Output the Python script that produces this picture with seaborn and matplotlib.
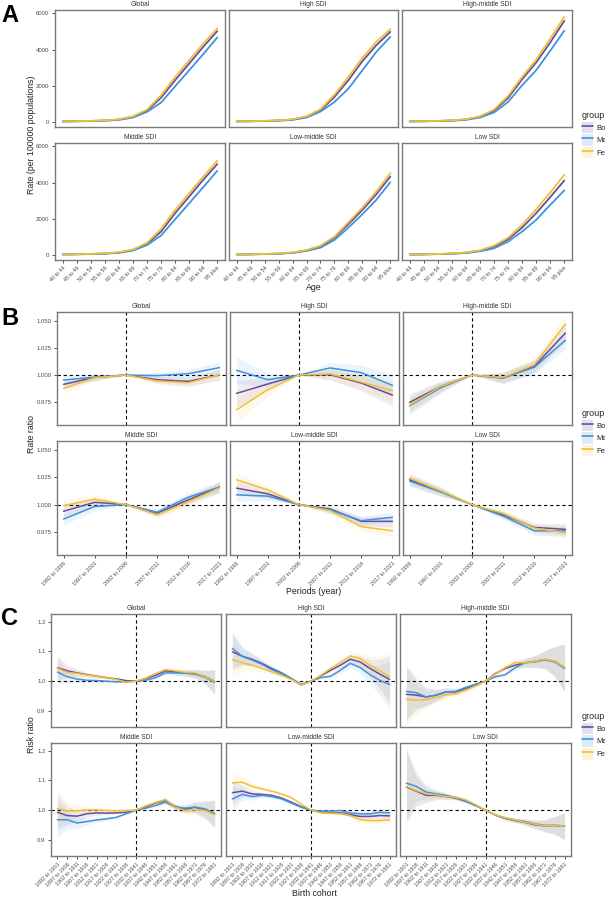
import numpy as np
import pandas as pd
import seaborn as sns
import matplotlib
matplotlib.use("Agg")
import matplotlib.pyplot as plt
from matplotlib.patches import Patch
from matplotlib.lines import Line2D

W, H = 605, 897

groups = ["Both", "Male", "Female"]
regions = ["Global", "High SDI", "High-middle SDI", "Middle SDI", "Low-middle SDI", "Low SDI"]

ages = ["40 to 44", "45 to 49", "50 to 54", "55 to 59", "60 to 64", "65 to 69",
        "70 to 74", "75 to 79", "80 to 84", "85 to 89", "90 to 94", "95 plus"]
periods = ["1992 to 1996", "1997 to 2001", "2002 to 2006", "2007 to 2011",
           "2012 to 2016", "2017 to 2021"]
cohorts = ["1892 to 1901", "1897 to 1906", "1902 to 1911", "1907 to 1916", "1912 to 1921",
           "1917 to 1926", "1922 to 1931", "1927 to 1936", "1932 to 1941", "1937 to 1946",
           "1942 to 1951", "1947 to 1956", "1952 to 1961", "1957 to 1966", "1962 to 1971",
           "1967 to 1976", "1972 to 1981"]

# A: age effect, rate per 100000 (rows: Both, Male, Female)
a_global = [[15, 25, 40, 65, 120, 270, 610, 1330, 2300, 3220, 4150, 5020],
            [12, 20, 33, 55, 100, 230, 540, 1060, 1960, 2850, 3740, 4670],
            [18, 28, 45, 75, 135, 300, 670, 1460, 2480, 3400, 4330, 5170]]
a_high = [[15, 25, 40, 65, 120, 270, 630, 1370, 2300, 3350, 4240, 4980],
          [12, 20, 33, 55, 100, 230, 560, 1090, 1830, 2850, 3870, 4700],
          [18, 28, 45, 75, 135, 300, 690, 1500, 2480, 3540, 4430, 5130]]
a_highmid = [[15, 25, 40, 65, 120, 270, 610, 1310, 2350, 3280, 4390, 5590],
             [12, 20, 33, 55, 100, 230, 510, 1090, 2020, 2850, 3930, 5040],
             [18, 28, 45, 75, 135, 300, 670, 1430, 2480, 3440, 4610, 5810]]
a_mid = [[15, 25, 40, 65, 120, 260, 600, 1280, 2300, 3220, 4150, 5020],
         [12, 20, 33, 55, 100, 230, 530, 1060, 1960, 2850, 3740, 4650],
         [18, 28, 45, 75, 135, 290, 660, 1430, 2480, 3400, 4330, 5200]]
a_lowmid = [[12, 20, 35, 60, 110, 230, 440, 940, 1690, 2480, 3350, 4330],
            [10, 17, 30, 52, 95, 210, 390, 815, 1500, 2240, 3040, 4020],
            [14, 23, 40, 68, 125, 260, 500, 1000, 1800, 2610, 3500, 4520]]
a_low = [[12, 20, 35, 60, 110, 220, 440, 850, 1500, 2300, 3190, 4110],
         [10, 17, 30, 52, 95, 190, 350, 720, 1280, 1930, 2760, 3560],
         [14, 23, 40, 68, 125, 250, 500, 940, 1650, 2520, 3440, 4430]]

# B: period effect, rate ratio
b_global = [[0.9914, 0.9978, 1.0, 0.9957, 0.9942, 1.0000],
            [0.9954, 0.9980, 1.0, 0.9994, 1.0012, 1.0068],
            [0.9877, 0.9975, 1.0, 0.9945, 0.9929, 1.0003]]
b_high = [[0.9831, 0.9917, 1.0, 1.0003, 0.9926, 0.9815],
          [1.0043, 0.9957, 1.0, 1.0065, 1.0022, 0.9905],
          [0.9680, 0.9865, 1.0, 1.0010, 0.9935, 0.9855]]
b_highmid = [[0.9748, 0.9896, 1.0, 0.9972, 1.0080, 1.0387],
             [0.9717, 0.9883, 1.0, 0.9975, 1.0071, 1.0320],
             [0.9723, 0.9896, 1.0, 0.9978, 1.0095, 1.0470]]
b_mid = [[0.9939, 1.0021, 1.0, 0.9920, 1.0043, 1.0160],
         [0.9868, 0.9982, 1.0, 0.9930, 1.0067, 1.0160],
         [0.9990, 1.0050, 1.0, 0.9908, 1.0024, 1.0153]]
b_lowmid = [[1.0150, 1.0098, 1.0, 0.9960, 0.9847, 0.9847],
            [1.0089, 1.0077, 1.0, 0.9951, 0.9853, 0.9884],
            [1.0226, 1.0135, 1.0, 0.9945, 0.9798, 0.9761]]
b_low = [[1.0226, 1.0120, 1.0, 0.9908, 0.9792, 0.9774],
         [1.0214, 1.0115, 1.0, 0.9896, 0.9761, 0.9760],
         [1.0242, 1.0125, 1.0, 0.9920, 0.9786, 0.9743]]
# half width of the confidence bands
b_band_global = [0.004, 0.003, 0.0, 0.003, 0.004, 0.005]
b_band_high = [0.012, 0.006, 0.0, 0.005, 0.007, 0.010]
b_band_highmid = [0.008, 0.005, 0.0, 0.005, 0.006, 0.008]
b_band_mid = [0.005, 0.004, 0.0, 0.003, 0.004, 0.005]
b_band_lowmid = [0.006, 0.004, 0.0, 0.003, 0.004, 0.005]
b_band_low = [0.005, 0.004, 0.0, 0.003, 0.004, 0.005]

# C: cohort effect, risk ratio
c_global = [[1.045, 1.035, 1.028, 1.022, 1.017, 1.012, 1.008, 1.002, 1.0, 1.009, 1.020, 1.035, 1.031, 1.028, 1.025, 1.016, 0.999],
            [1.031, 1.015, 1.007, 1.003, 1.002, 1.000, 0.998, 0.998, 1.0, 1.003, 1.012, 1.028, 1.028, 1.027, 1.024, 1.013, 0.996],
            [1.043, 1.030, 1.026, 1.021, 1.017, 1.012, 1.006, 0.996, 1.0, 1.011, 1.026, 1.039, 1.035, 1.030, 1.028, 1.015, 0.998]]
c_high = [[1.099, 1.084, 1.074, 1.060, 1.043, 1.028, 1.009, 0.989, 1.0, 1.018, 1.037, 1.054, 1.074, 1.065, 1.043, 1.024, 1.006],
          [1.110, 1.084, 1.071, 1.057, 1.039, 1.026, 1.009, 0.988, 1.0, 1.012, 1.017, 1.037, 1.060, 1.046, 1.022, 1.003, 0.989],
          [1.073, 1.062, 1.054, 1.043, 1.031, 1.020, 1.006, 0.987, 1.0, 1.020, 1.043, 1.063, 1.085, 1.076, 1.054, 1.035, 1.015]]
c_highmid = [[0.956, 0.953, 0.947, 0.953, 0.964, 0.964, 0.975, 0.989, 1.0, 1.026, 1.043, 1.054, 1.062, 1.067, 1.073, 1.067, 1.046],
             [0.966, 0.961, 0.947, 0.953, 0.964, 0.966, 0.979, 0.990, 1.0, 1.015, 1.022, 1.045, 1.062, 1.065, 1.071, 1.065, 1.043],
             [0.939, 0.936, 0.938, 0.945, 0.955, 0.958, 0.970, 0.983, 1.0, 1.024, 1.046, 1.063, 1.062, 1.067, 1.073, 1.068, 1.046]]
c_mid = [[0.993, 0.982, 0.980, 0.988, 0.991, 0.990, 0.991, 0.993, 1.0, 1.012, 1.024, 1.033, 1.012, 1.003, 1.010, 1.001, 0.988],
         [0.968, 0.968, 0.957, 0.962, 0.967, 0.971, 0.976, 0.988, 1.0, 1.007, 1.016, 1.027, 1.010, 1.007, 1.010, 1.005, 0.988],
         [1.005, 0.998, 0.998, 1.001, 1.001, 0.999, 0.998, 0.999, 1.0, 1.015, 1.026, 1.036, 1.009, 0.999, 1.001, 0.999, 0.985]]
c_lowmid = [[1.059, 1.064, 1.055, 1.053, 1.050, 1.041, 1.027, 1.012, 1.0, 0.993, 0.991, 0.991, 0.985, 0.979, 0.979, 0.982, 0.981],
            [1.038, 1.053, 1.046, 1.050, 1.046, 1.038, 1.024, 1.010, 1.0, 0.997, 0.997, 0.999, 0.991, 0.988, 0.988, 0.993, 0.991],
            [1.092, 1.094, 1.080, 1.072, 1.064, 1.055, 1.042, 1.021, 1.0, 0.991, 0.990, 0.988, 0.982, 0.968, 0.965, 0.965, 0.967]]
c_low = [[1.078, 1.064, 1.050, 1.050, 1.046, 1.041, 1.030, 1.016, 1.0, 0.984, 0.972, 0.965, 0.959, 0.951, 0.947, 0.949, 0.947],
         [1.091, 1.080, 1.061, 1.055, 1.050, 1.042, 1.030, 1.016, 1.0, 0.984, 0.974, 0.967, 0.962, 0.954, 0.949, 0.949, 0.946],
         [1.080, 1.066, 1.055, 1.052, 1.046, 1.044, 1.035, 1.019, 1.0, 0.985, 0.974, 0.967, 0.960, 0.953, 0.947, 0.950, 0.946]]
c_band_global = [0.040, 0.020, 0.012, 0.008, 0.006, 0.005, 0.004, 0.003, 0.0, 0.003, 0.005, 0.006, 0.008, 0.010, 0.014, 0.022, 0.040]
c_band_high = [0.060, 0.030, 0.020, 0.012, 0.008, 0.006, 0.004, 0.003, 0.0, 0.003, 0.006, 0.010, 0.014, 0.020, 0.030, 0.050, 0.080]
c_band_highmid = [0.090, 0.050, 0.030, 0.020, 0.014, 0.010, 0.007, 0.004, 0.0, 0.004, 0.007, 0.010, 0.015, 0.020, 0.030, 0.050, 0.080]
c_band_mid = [0.060, 0.030, 0.020, 0.012, 0.008, 0.006, 0.004, 0.003, 0.0, 0.003, 0.005, 0.007, 0.009, 0.012, 0.018, 0.028, 0.045]
c_band_lowmid = [0.040, 0.020, 0.012, 0.008, 0.006, 0.005, 0.004, 0.003, 0.0, 0.003, 0.004, 0.005, 0.006, 0.008, 0.010, 0.012, 0.015]
c_band_low = [0.120, 0.050, 0.025, 0.015, 0.010, 0.007, 0.005, 0.003, 0.0, 0.003, 0.005, 0.007, 0.010, 0.014, 0.020, 0.030, 0.045]

palette = {"Both": "#6A4C9C", "Male": "#4193D8", "Female": "#F0C035"}

sns.set_theme(style="white")
plt.rcParams["font.family"] = ["Liberation Sans", "DejaVu Sans"]

fig = plt.figure(figsize=(W / 100, H / 100), dpi=100)


def rect(x0, y0, x1, y1):
    return [x0 / W, 1 - y1 / H, (x1 - x0) / W, (y1 - y0) / H]


def long_frame(vals):
    rows = []
    for g, series in zip(groups, vals):
        for i, v in enumerate(series):
            rows.append({"x": i, "value": v, "group": g})
    return pd.DataFrame(rows)


def draw_block(rows, cols, cats, data, bands, ylim, yticks, ylabels, xpad, ref,
               ylab, xlab, xlab_y, letter, letter_y, leg_y, lw):
    n = len(cats)
    for k, region in enumerate(regions):
        r, c = divmod(k, 3)
        (y0, y1), (x0, x1) = rows[r], cols[c]
        ax = fig.add_axes(rect(x0, y0, x1, y1))
        df = long_frame(data[k])
        if bands is not None:
            for g, series in zip(groups, data[k]):
                s = np.array(series)
                b = np.array(bands[k])
                ax.fill_between(np.arange(n), s - b, s + b, color=palette[g], alpha=0.1, lw=0)
        if ref is not None:
            ax.axhline(1.0, color="black", lw=0.8, ls=(0, (3, 2.5)), zorder=1)
            ax.axvline(ref, color="black", lw=0.8, ls=(0, (3, 2.5)), zorder=1)
        sns.lineplot(data=df, x="x", y="value", hue="group", hue_order=groups,
                     palette=palette, ax=ax, legend=False, lw=lw, errorbar=None)
        ax.set_xlim(-xpad, n - 1 + xpad)
        ax.set_ylim(*ylim)
        ax.set_xlabel("")
        ax.set_ylabel("")
        for sp in ax.spines.values():
            sp.set_color("#7a7a7a")
            sp.set_linewidth(1.0)
        ax.set_yticks(yticks)
        ax.set_xticks(np.arange(n))
        if c == 0:
            ax.set_yticklabels(ylabels)
            ax.tick_params(axis="y", left=True, length=2.5, width=0.6, color="#333333",
                           labelsize=4.3, labelcolor="#4d4d4d", pad=1.5)
        else:
            ax.set_yticklabels([])
            ax.tick_params(axis="y", left=False)
        if r == 1:
            ax.set_xticklabels(cats, rotation=45, ha="right", rotation_mode="anchor")
            ax.tick_params(axis="x", bottom=True, length=2.5, width=0.6, color="#333333",
                           labelsize=3.9, labelcolor="#4d4d4d", pad=1.5)
        else:
            ax.set_xticklabels([])
            ax.tick_params(axis="x", bottom=False)
        fig.text((x0 + x1) / 2 / W, 1 - (y0 - 2) / H, region, ha="center", va="bottom",
                 fontsize=4.8, color="#333333")

    top, bottom = rows[0][0], rows[1][1]
    fig.text(32 / W, 1 - (top + bottom) / 2 / H, ylab, rotation=90, ha="center",
             va="center", fontsize=6.3, color="#222222")
    fig.text(314 / W, 1 - xlab_y / H, xlab, ha="center", va="center", fontsize=6.3,
             color="#222222")
    fig.text(1 / W, 1 - letter_y / H, letter, ha="left", va="top", fontsize=17,
             fontweight="bold", color="black")

    handles = [(Patch(facecolor=palette[g], alpha=0.18, lw=0),
                Line2D([], [], color=palette[g], lw=1.2)) for g in groups]
    fig.legend(handles, groups, title="group", loc="upper left",
               bbox_to_anchor=(582 / W, 1 - leg_y / H), frameon=False, fontsize=5.5,
               title_fontsize=6.5, handlelength=1.5, handleheight=1.9, handletextpad=0.4,
               labelspacing=0.2, borderpad=0, borderaxespad=0, alignment="left")


a_data = [a_global, a_high, a_highmid, a_mid, a_lowmid, a_low]
b_data = [b_global, b_high, b_highmid, b_mid, b_lowmid, b_low]
b_bands = [b_band_global, b_band_high, b_band_highmid, b_band_mid, b_band_lowmid, b_band_low]
c_data = [c_global, c_high, c_highmid, c_mid, c_lowmid, c_low]
c_bands = [c_band_global, c_band_high, c_band_highmid, c_band_mid, c_band_lowmid, c_band_low]

draw_block([(10, 127), (143, 260)], [(55, 225), (229, 398), (402, 572)], ages, a_data, None,
           (-295, 6190), [0, 2000, 4000, 6000], ["0", "2000", "4000", "6000"], 0.55, None,
           "Rate (per 100000 populations)", "Age", 288, "A", 4, 111, 1.3)
draw_block([(312, 425), (441, 555)], [(57, 226), (230, 399), (403, 572)], periods, b_data, b_bands,
           (0.954, 1.058), [0.975, 1.0, 1.025, 1.05], ["0.975", "1.000", "1.025", "1.050"], 0.21, 2,
           "Rate ratio", "Periods (year)", 592, "B", 307, 409, 1.1)
draw_block([(614, 727), (743, 856)], [(51, 221), (226, 396), (400, 571)], cohorts, c_data, c_bands,
           (0.846, 1.226), [0.9, 1.0, 1.1, 1.2], ["0.9", "1.0", "1.1", "1.2"], 0.65, 8,
           "Risk ratio", "Birth cohort", 893, "C", 607, 712, 1.1)

fig.savefig("out.png", dpi=100)
